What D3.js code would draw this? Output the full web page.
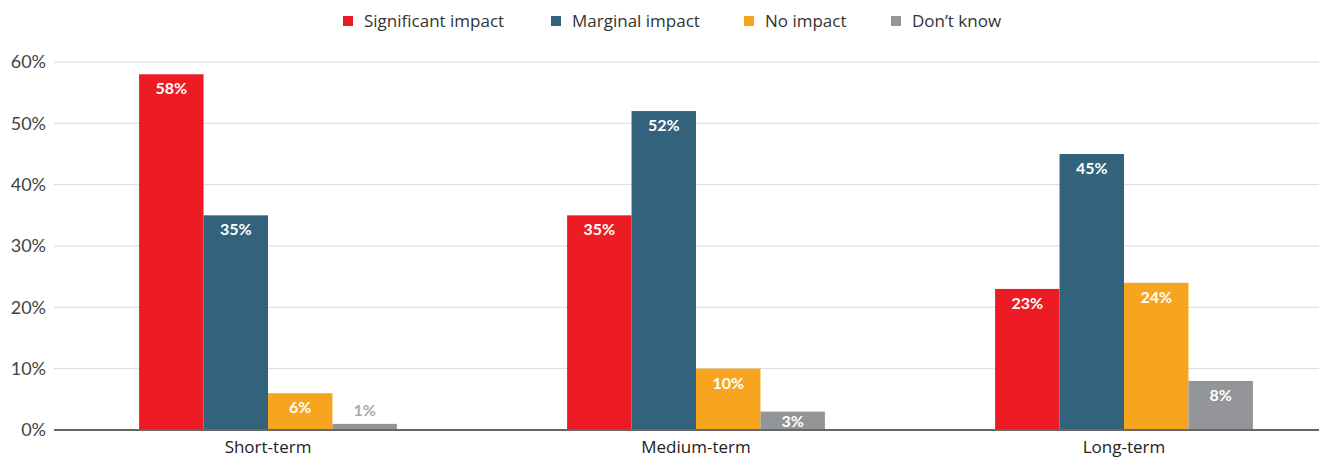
<!DOCTYPE html>
<html><head><meta charset="utf-8">
<script src="https://cdn.jsdelivr.net/npm/d3@7"></script>
<style>body{margin:0;background:#fff}svg{display:block}text{font-family:Lato,"Open Sans",sans-serif}text.os{font-family:"Open Sans",sans-serif}</style>
</head><body><svg id="c" width="1319" height="457"></svg>
<script>
const categories = ["Short-term","Medium-term","Long-term"];
const series = ["Significant impact","Marginal impact","No impact","Don\u2019t know"];
const significant = [58,35,23];
const marginal = [35,52,45];
const noImpact = [6,10,24];
const dontKnow = [1,3,8];
const yTicks = [0,10,20,30,40,50,60];
const colors = ["#ED1C24","#33627C","#F7A51E","#939598"];
const values = [significant, marginal, noImpact, dontKnow];

const svg = d3.select("#c");
const y = d3.scaleLinear().domain([0,60]).range([430,62]);
const x0 = d3.scaleBand().domain(categories).range([54,1338]).padding(0);
const x1 = d3.scaleBand().domain(series).range([0,x0.bandwidth()]).paddingInner(0).paddingOuter(1.32);

svg.append("g").selectAll("line").data(yTicks.filter(d=>d>0)).join("line")
  .attr("x1",54).attr("x2",1319).attr("y1",d=>y(d)).attr("y2",d=>y(d))
  .attr("stroke","#d9d9d9").attr("stroke-width",1);
svg.append("g").selectAll("text").data(yTicks).join("text")
  .attr("x",46).attr("y",d=>y(d)).attr("dy","0.35em").attr("text-anchor","end")
  .attr("font-size",18).attr("fill","#444").text(d=>d+"%");

const rows = [];
categories.forEach((c,i)=>series.forEach((s,j)=>rows.push({c,s,j,v:values[j][i]})));
svg.append("g").selectAll("rect").data(rows).join("rect")
  .attr("x",d=>x0(d.c)+x1(d.s)).attr("width",x1.bandwidth())
  .attr("y",d=>y(d.v)).attr("height",d=>y(0)-y(d.v)).attr("fill",d=>colors[d.j]);
svg.append("g").selectAll("text").data(rows).join("text")
  .attr("x",d=>x0(d.c)+x1(d.s)+x1.bandwidth()/2)
  .attr("y",d=>d.v<2? y(d.v)-8 : Math.min(y(d.v)+20,427))
  .attr("text-anchor","middle").attr("font-size",16).attr("font-weight",700)
  .attr("fill",d=>d.v<2?"#aaaaac":"#fff").text(d=>d.v+"%");

svg.append("line").attr("x1",54).attr("x2",1319).attr("y1",430).attr("y2",430)
  .attr("stroke","#666").attr("stroke-width",2);
svg.append("g").selectAll("text").data(categories).join("text").attr("class","os")
  .attr("x",d=>x0(d)+x0.bandwidth()/2).attr("y",453).attr("text-anchor","middle")
  .attr("font-size",17).attr("fill","#222").text(d=>d);

const legX = [343,551,744,891];
const lg = svg.append("g").selectAll("g").data(series).join("g")
  .attr("transform",(d,i)=>`translate(${legX[i]},21)`);
lg.append("rect").attr("x",0).attr("y",-5).attr("width",10).attr("height",10).attr("fill",(d,i)=>colors[i]);
lg.append("text").attr("class","os").attr("x",21).attr("y",0).attr("dy","0.35em")
  .attr("font-size",17).attr("fill","#333").text(d=>d);
</script></body></html>
